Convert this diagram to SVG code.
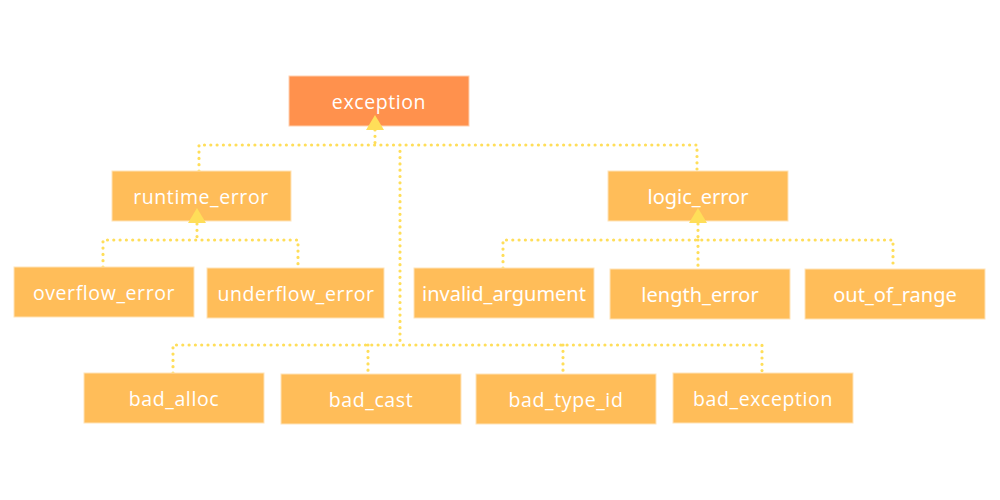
<svg xmlns="http://www.w3.org/2000/svg" width="1000" height="500" viewBox="0 0 1000 500">
<style>
.box{fill:#FFBD59;stroke:#FFE3B8;stroke-width:1}
.root{fill:#FF914D;stroke:#FFD0B0;stroke-width:1}
.t{font-family:"Open Sans","Liberation Sans",sans-serif;font-size:19.5px;fill:#FFFFFF;text-anchor:middle;dominant-baseline:central;letter-spacing:0.6px}
.t2{font-family:"Noto Sans","Liberation Sans",sans-serif;font-size:20px;fill:#FFFFFF;text-anchor:middle;dominant-baseline:central}
.c{fill:none;stroke:#FFDE59;stroke-width:3.2;stroke-linecap:round;stroke-dasharray:0 6.3}
.ah{fill:#FFDE59}
</style>
<rect width="1000" height="500" fill="#FFFFFF"/>
<g id="connectors">
<path class="c" d="M375 130 V145 M199 171 V145 H697 V171 M400 145 V345 M173 373 V345 H762 V373 M368 345 V373 M563 345 V373"/>
<path class="c" d="M197 224 V240 M103 267 V240 H298 V267"/>
<path class="c" d="M698 224 V240 M503 268 V240 H893 V268 M698 240 V268"/>
</g>
<g id="exception"><rect class="root" x="289" y="76" width="180" height="50"/><text class="t" x="379" y="101">exception</text></g>
<g id="runtime_error"><rect class="box" x="112" y="171" width="179" height="50"/><text class="t" x="201" y="196">runtime_error</text></g>
<g id="logic_error"><rect class="box" x="608" y="171" width="180" height="50"/><text class="t2" x="698" y="196">logic_error</text></g>
<g id="overflow_error"><rect class="box" x="14" y="267" width="180" height="50"/><text class="t" x="104" y="292">overflow_error</text></g>
<g id="underflow_error"><rect class="box" x="207" y="268" width="177" height="50"/><text class="t" x="296" y="293">underflow_error</text></g>
<g id="invalid_argument"><rect class="box" x="414" y="268" width="180" height="50"/><text class="t2" x="504" y="293">invalid_argument</text></g>
<g id="length_error"><rect class="box" x="610" y="269" width="180" height="50"/><text class="t2" x="700" y="294">length_error</text></g>
<g id="out_of_range"><rect class="box" x="805" y="269" width="180" height="50"/><text class="t2" x="895" y="294">out_of_range</text></g>
<g id="bad_alloc"><rect class="box" x="84" y="373" width="180" height="50"/><text class="t" x="174" y="398">bad_alloc</text></g>
<g id="bad_cast"><rect class="box" x="281" y="374" width="180" height="50"/><text class="t" x="371" y="399">bad_cast</text></g>
<g id="bad_type_id"><rect class="box" x="476" y="374" width="180" height="50"/><text class="t" x="566" y="399">bad_type_id</text></g>
<g id="bad_exception"><rect class="box" x="673" y="373" width="180" height="50"/><text class="t" x="763" y="398">bad_exception</text></g>
<g id="arrowheads">
<polygon class="ah" points="375,115 384,130 366,130"/>
<polygon class="ah" points="197,208 206,223 188,223"/>
<polygon class="ah" points="698,208 707,223 689,223"/>
</g>
</svg>
